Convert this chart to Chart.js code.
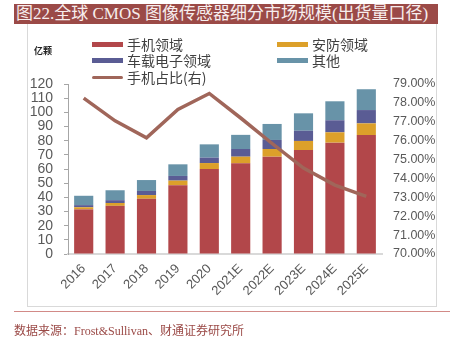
<!DOCTYPE html>
<html>
<head>
<meta charset="utf-8">
<script src="https://cdn.jsdelivr.net/npm/chart.js@4"></script>
<style>
  body { margin: 0; background: #fff; font-family: "Noto Sans CJK SC", sans-serif; }
  #wrap { position: relative; width: 454px; height: 339px; overflow: hidden; }
  .title { position: absolute; left: 14px; top: 4px; width: 422px; height: 20px; background: #9b4a47;
    color: #f7eeee; font: 17px/20px "Liberation Serif", "Noto Sans CJK SC", serif; padding-left: 2px; white-space: nowrap; }
  .frame { position: absolute; left: 27px; top: 24px; width: 408px; height: 282px; border: 1px solid #d9d9d9; border-top: none; }
  #c { position: absolute; left: 0; top: 0; }
  .unit { position: absolute; left: 34px; top: 44px; font-size: 9px; font-weight: bold; color: #222; }
  .leg { position: absolute; display: flex; align-items: center; font-size: 14px; color: #404040; white-space: nowrap; height: 16px; }
  .leg i { display: inline-block; width: 31px; height: 5px; margin-right: 4px; }
  .leg i.ln { height: 3px; border-radius: 2px; }
  .rule { position: absolute; left: 14px; top: 311px; width: 436px; height: 1px; background: #d28a87; }
  .source { position: absolute; left: 14px; top: 321px; font: 12px "Liberation Serif", "Noto Sans CJK SC", serif; color: #9b4a47; white-space: nowrap; }
</style>
</head>
<body>
<div id="wrap">
  <div class="title">图22.全球 CMOS 图像传感器细分市场规模(出货量口径)</div>
  <div class="frame"></div>
  <canvas id="c" width="454" height="339"></canvas>
  <div class="unit">亿颗</div>
  <div id="legend"></div>
  <div class="rule"></div>
  <div class="source">数据来源：Frost&amp;Sullivan、财通证券研究所</div>
</div>
<script>
// categories
const years = ['2016', '2017', '2018', '2019', '2020', '2021E', '2022E', '2023E', '2024E', '2025E'];
// 亿颗
const phone = [31.5, 34, 39, 48.5, 60, 64, 68.7, 73.4, 78.6, 84];
const security = [1.5, 2, 2.6, 3.3, 4.2, 4.7, 5.4, 6.4, 7.3, 8.2];
const auto = [1.5, 2, 2.9, 3.3, 3.8, 5.4, 6.4, 7.2, 8.5, 9.4];
const other = [6.6, 7, 7.7, 8.2, 9.4, 10, 11.3, 12.3, 13.4, 14.7];
// %
const phoneShare = [78.25, 77.05, 76.15, 77.65, 78.5, 77.2, 75.85, 74.55, 73.65, 73.05];

const leftTicks = { min: 0, max: 120, step: 10 };
const rightTicks = { min: 70, max: 79, step: 1 };

const names = ['手机领域', '安防领域', '车载电子领域', '其他', '手机占比(右)'];
const colors = ['#b2474a', '#dca02a', '#5a5c94', '#6893a8', '#a0665a'];

// legend (two columns, like the original)
const legendPos = [[92, 36], [277, 36], [92, 52], [277, 52], [92, 69]];
document.getElementById('legend').innerHTML = names.map((name, i) => `
  <div class="leg" style="left:${legendPos[i][0]}px;top:${legendPos[i][1]}px">
    <i class="${i === 4 ? 'ln' : ''}" style="background:${colors[i]}"></i>${name}
  </div>
`).join('');

const barData = [phone, security, auto, other];

new Chart(document.getElementById('c'), {
  data: {
    labels: years,
    datasets: [
      ...barData.map((values, i) => ({
        type: 'bar',
        label: names[i],
        data: values,
        backgroundColor: colors[i],
        yAxisID: 'y',
        stack: 's',
        order: 1,
        barPercentage: 0.61,
        categoryPercentage: 1
      })),
      {
        type: 'line',
        label: names[4],
        data: phoneShare,
        borderColor: colors[4],
        borderWidth: 3.5,
        pointRadius: 0,
        tension: 0,
        yAxisID: 'y1',
        order: 0
      }
    ]
  },
  options: {
    responsive: false,
    animation: false,
    layout: { padding: { top: 84, left: 0, right: 0, bottom: 0 } },
    plugins: { legend: { display: false }, title: { display: false }, tooltip: { enabled: false } },
    scales: {
      x: {
        stacked: true,
        afterFit: (s) => { s.height = 85; },
        grid: { display: false, drawTicks: false },
        border: { display: true, color: '#d9d9d9', width: 2 },
        ticks: { color: '#595959', font: { size: 13, family: 'Liberation Sans' }, minRotation: 45, maxRotation: 45, padding: 7 }
      },
      y: {
        position: 'left',
        stacked: true,
        min: leftTicks.min,
        max: leftTicks.max,
        afterFit: (s) => { s.width = 68; },
        grid: { drawOnChartArea: false, drawTicks: true, tickLength: 4, color: '#a6a6a6' },
        border: { display: true, color: '#a6a6a6' },
        ticks: { stepSize: leftTicks.step, autoSkip: false, color: '#595959', font: { size: 14, family: 'Liberation Sans' }, padding: 11 }
      },
      y1: {
        position: 'right',
        min: rightTicks.min,
        max: rightTicks.max,
        afterFit: (s) => { s.width = 72; },
        grid: { display: false, drawTicks: false },
        border: { display: false },
        ticks: {
          stepSize: rightTicks.step,
          autoSkip: false,
          color: '#595959',
          font: { size: 12.5, family: 'Liberation Sans' },
          padding: 11,
          callback: (v) => v.toFixed(2) + '%'
        }
      }
    }
  }
});
</script>
</body>
</html>
